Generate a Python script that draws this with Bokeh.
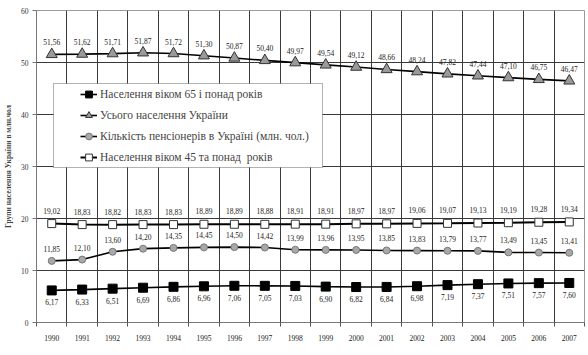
from bokeh.plotting import figure
from bokeh.models import (FixedTicker, Range1d, Legend, LegendItem, BoxAnnotation,
                          ColumnDataSource)
from bokeh.core.properties import value
from bokeh.embed import file_html
from bokeh.resources import INLINE

years = list(range(1990, 2008))
age65 = [6.17, 6.33, 6.51, 6.69, 6.86, 6.96, 7.06, 7.05, 7.03, 6.90, 6.82, 6.84, 6.98, 7.19, 7.37, 7.51, 7.57, 7.60]
total = [51.56, 51.62, 51.71, 51.87, 51.72, 51.30, 50.87, 50.40, 49.97, 49.54, 49.12, 48.66, 48.24, 47.82, 47.44, 47.10, 46.75, 46.47]
pensioners = [11.85, 12.10, 13.60, 14.20, 14.35, 14.45, 14.50, 14.42, 13.99, 13.96, 13.95, 13.85, 13.83, 13.79, 13.77, 13.49, 13.45, 13.41]
age45 = [19.02, 18.83, 18.82, 18.83, 18.83, 18.89, 18.89, 18.88, 18.91, 18.91, 18.97, 18.97, 19.06, 19.07, 19.13, 19.19, 19.28, 19.34]
y_ticks = [0, 10, 20, 30, 40, 50, 60]

names = ["Населення віком 65 і понад років", "Усього населення України",
         "Кількість пенсіонерів в Україні (млн. чол.)", "Населення віком 45 та понад  років"]
y_title = "Групи населення України в млн.чол"

SERIF = "'Liberation Serif', 'Times New Roman', serif"

p = figure(width=588, height=355, output_backend="svg", toolbar_location=None,
           x_range=Range1d(years[0] - 0.5, years[-1] + 0.5), y_range=Range1d(0, 60),
           min_border_left=36, min_border_right=4, min_border_top=10, min_border_bottom=33)
p.background_fill_color = "white"
p.border_fill_color = "white"
p.outline_line_color = "#9a9a9a"
p.outline_line_width = 1

bounds = [y - 0.5 for y in years] + [years[-1] + 0.5]
p.xaxis.ticker = FixedTicker(ticks=years, minor_ticks=bounds)
p.xaxis.major_tick_out = 0
p.xaxis.major_tick_in = 0
p.xaxis.minor_tick_out = 4
p.xaxis.minor_tick_in = 0
p.xaxis.minor_tick_line_color = "#555555"
p.xaxis.axis_line_color = "#777777"
p.xaxis.major_label_text_font = SERIF
p.xaxis.major_label_text_font_size = "7.5px"
p.xaxis.major_label_text_color = "#222222"
p.xaxis.major_label_standoff = 8

p.yaxis.ticker = FixedTicker(ticks=y_ticks)
p.yaxis.minor_tick_line_color = None
p.yaxis.major_tick_out = 4
p.yaxis.major_tick_in = 0
p.yaxis.major_tick_line_color = "#777777"
p.yaxis.axis_line_color = "#777777"
p.yaxis.major_label_text_font = SERIF
p.yaxis.major_label_text_font_size = "7.5px"
p.yaxis.major_label_text_color = "#333333"
p.yaxis.major_label_standoff = 4
p.yaxis.axis_label = y_title
p.yaxis.axis_label_text_font = SERIF
p.yaxis.axis_label_text_font_style = "bold"
p.yaxis.axis_label_text_font_size = "7.5px"
p.yaxis.axis_label_standoff = 5

p.xgrid.ticker = FixedTicker(ticks=bounds)
p.xgrid.grid_line_color = "#3a3a3a"
p.ygrid.ticker = FixedTicker(ticks=y_ticks)
p.ygrid.grid_line_color = "#3a3a3a"

def fmt(vals):
    return [f"{v:.2f}".replace(".", ",") for v in vals]

series = [
    (age65, dict(marker="square", size=9, fill_color="black", line_color="black"), 1.6, -12),
    (total, dict(marker="triangle", size=11, fill_color="#9a9a9a", line_color="#333333"), 1.6, 12),
    (pensioners, dict(marker="circle", size=7, fill_color="#a8a8a8", line_color="#777777"), 1.6, 12),
    (age45, dict(marker="square", size=8, fill_color="white", line_color="#333333"), 2.0, 13),
]

items = []
for (vals, mk, lw, off), name in zip(series, names):
    src = ColumnDataSource(dict(x=years, y=vals, t=fmt(vals)))
    r_line = p.line("x", "y", source=src, line_color="black", line_width=lw)
    r_pt = p.scatter("x", "y", source=src, **mk)
    p.text("x", "y", text="t", source=src, y_offset=-off, text_align="center",
           text_baseline="middle", text_font=value(SERIF), text_font_size="7.5px",
           text_color="#222222")
    items.append(LegendItem(label=name, renderers=[r_line, r_pt]))

box = BoxAnnotation(left=17, right=286, top=239, bottom=155,
                    left_units="screen", right_units="screen",
                    top_units="screen", bottom_units="screen",
                    fill_color="white", fill_alpha=1.0, line_color="black", line_width=1,
                    level="annotation")
p.add_layout(box)

legend = Legend(items=items, location=(44, 155), padding=0, margin=0, spacing=1,
                label_height=20, glyph_height=20, glyph_width=17, label_standoff=3,
                label_text_font=SERIF, label_text_font_size="11.5px",
                border_line_color=None, background_fill_alpha=0)
p.add_layout(legend, "center")

open("out.html", "w").write(file_html(p, INLINE))
